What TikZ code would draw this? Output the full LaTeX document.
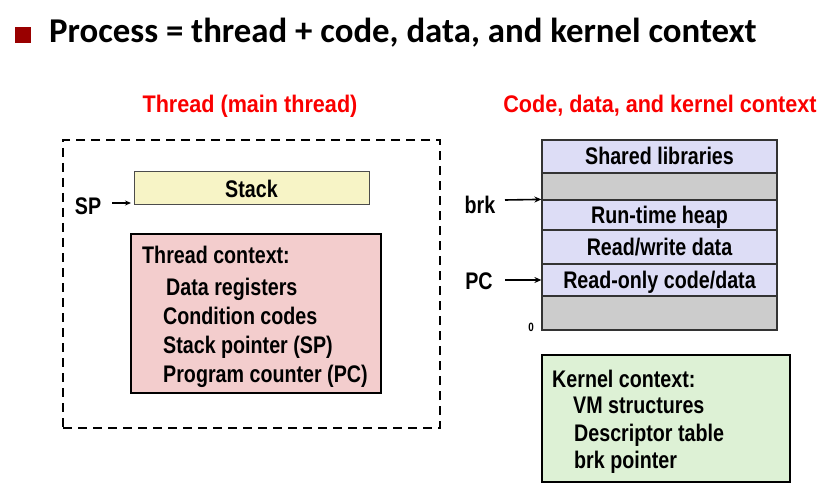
\documentclass[tikz,border=0pt]{standalone}
\usepackage{fontspec}
\setmainfont{Liberation Sans}[FakeStretch=0.82]
\newfontfamily\headfont{Liberation Sans}[FakeStretch=0.9]
\newfontfamily\titlefont{Carlito}
\usetikzlibrary{arrows.meta}
\definecolor{bulletred}{RGB}{153,0,0}
\definecolor{headred}{RGB}{250,0,0}
\definecolor{stackfill}{RGB}{247,244,198}
\definecolor{pinkfill}{RGB}{243,205,205}
\definecolor{lavfill}{RGB}{221,221,246}
\definecolor{grayfill}{RGB}{204,204,204}
\definecolor{greenfill}{RGB}{221,241,213}
\tikzset{
  txt/.style={font=\bfseries\fontsize{24}{28}\selectfont, inner sep=0pt},
  boxtxt/.style={txt, text height=17pt, text depth=0pt},
  heading/.style={font=\headfont\bfseries\fontsize{24}{28}\selectfont, inner sep=0pt, text=headred, anchor=base},
  item/.style={txt, anchor=base west},
  memrow/.style={draw=black!80, line width=1.2pt, minimum width=235pt, boxtxt},
  ptr/.style={-{Stealth[length=7pt,width=6pt]}, line width=1.6pt},
}
\begin{document}
\begin{tikzpicture}[x=1pt,y=-1pt]
\useasboundingbox (0,0) rectangle (836,500);
% title
\node[fill=bulletred, minimum size=16pt, inner sep=0pt] (bullet) at (23,35) {};
\node[anchor=base west, inner sep=0pt, font=\titlefont\bfseries\fontsize{34.8}{40}\selectfont] (title) at (49,43) {Process = thread + code, data, and kernel context};
% headings
\node[heading] (h1) at (250,113) {Thread (main thread)};
\node[heading] (h2) at (660,113) {Code, data, and kernel context};
% thread box
\node[draw, line width=2pt, dash pattern=on 9pt off 6pt, minimum width=377pt, minimum height=288pt, inner sep=0pt] (threadbox) at (251.5,284) {};
\node[draw=black!70, line width=1pt, fill=stackfill, minimum width=235pt, minimum height=33pt, boxtxt] (stack) at (251.5,188.5) {Stack};
\node[txt] (sp) at (88,206) {SP};
\coordinate (spfrom) at (112,203);
\coordinate (spto) at (131,203);
\draw[-{Stealth[length=6pt,width=5pt]}, line width=1.2pt] (spfrom) -- (spto);
\node[draw, line width=2.5pt, fill=pinkfill, minimum width=250pt, minimum height=159pt, inner sep=0pt] (tctx) at (256,313.5) {};
\node[item] (t0) at (142,263) {Thread context:};
\node[item] (t1) at (166,295) {Data registers};
\node[item] (t2) at (163,324) {Condition codes};
\node[item] (t3) at (163,353) {Stack pointer (SP)};
\node[item] (t4) at (163,382) {Program counter (PC)};
% memory column
\node[memrow, fill=lavfill, minimum height=33pt] (shared) at (659.5,156.5) {Shared libraries};
\node[memrow, fill=grayfill, minimum height=27pt] (gap1) at (659.5,186.5) {};
\node[memrow, fill=lavfill, minimum height=30pt] (heap) at (659.5,215) {Run-time heap};
\node[memrow, fill=lavfill, minimum height=34pt] (rw) at (659.5,247) {Read/write data};
\node[memrow, fill=lavfill, minimum height=32pt] (ro) at (659.5,280) {Read-only code/data};
\node[memrow, fill=grayfill, minimum height=34pt] (gap2) at (659.5,313) {};
\node[txt] (brk) at (480,205) {brk};
\node[txt] (pc) at (479,281) {PC};
\node[txt, font=\bfseries\fontsize{12}{14}\selectfont] (zero) at (531,327) {0};
\coordinate (brkfrom) at (505,200);
\coordinate (pcfrom) at (505,280);
\draw[ptr] (brkfrom) -- (heap.north west);
\draw[ptr] (pcfrom) -- (ro.west);
% kernel box
\node[draw, line width=2.5pt, fill=greenfill, minimum width=248pt, minimum height=127pt, inner sep=0pt] (kctx) at (666,418.5) {};
\node[item] (k0) at (552,387) {Kernel context:};
\node[item] (k1) at (573,413) {VM structures};
\node[item] (k2) at (574,441) {Descriptor table};
\node[item] (k3) at (574,468) {brk pointer};
\end{tikzpicture}
\end{document}
